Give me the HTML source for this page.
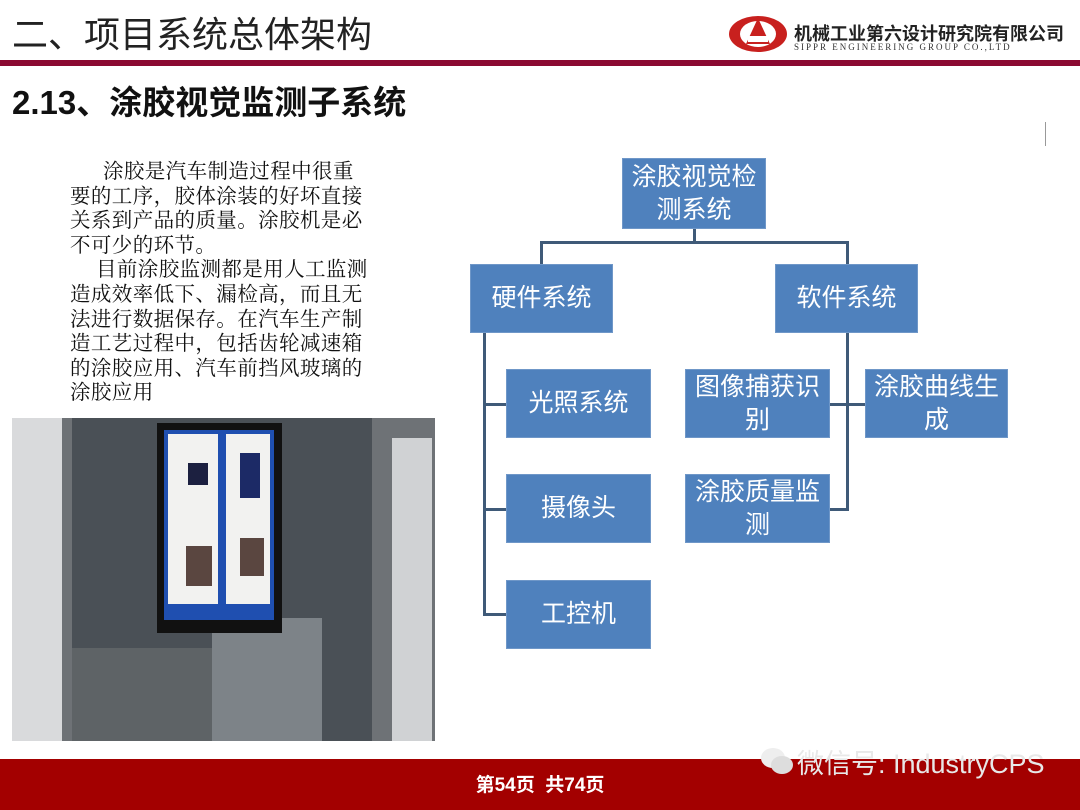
<!DOCTYPE html>
<html><head><meta charset="utf-8"><style>
body{margin:0;width:1080px;height:810px;position:relative;background:#fff;overflow:hidden;font-family:"Liberation Sans","Noto Sans CJK SC",sans-serif}
.a{position:absolute}
.box{position:absolute;background:#4f81bd;color:#fff;font-size:25px;line-height:33px;text-align:center;display:flex;align-items:center;justify-content:center;box-sizing:border-box;border:1px solid #6f97c8}
.ln{position:absolute;background:#3f5a78}
.txt{font-family:"Liberation Serif","Noto Serif CJK SC",serif;font-size:20.5px;line-height:24.6px;color:#111}
</style></head><body>
<div class="a" style="left:12px;top:6px;font-size:36px;color:#222">二、项目系统总体架构</div>
<svg class="a" style="left:728px;top:14px" width="62" height="40" viewBox="0 0 62 40"><ellipse cx="30" cy="20" rx="29" ry="18" fill="#c8201e"/><ellipse cx="30" cy="20" rx="18" ry="13" fill="#fff"/><path d="M30 4 L42 30 L18 30 Z" fill="#c8201e"/><rect x="20" y="22" width="20" height="6" fill="#fff"/></svg>
<div class="a" style="left:794px;top:20px;font-size:18px;font-weight:bold;color:#222">机械工业第六设计研究院有限公司</div>
<div class="a" style="left:794px;top:42px;font-size:9px;letter-spacing:2px;color:#333;font-family:'Liberation Serif',serif">SIPPR ENGINEERING GROUP CO.,LTD</div>
<div class="a" style="left:0;top:60px;width:1080px;height:6px;background:#8b0a32"></div>
<div class="a" style="left:12px;top:76px;font-size:33px;font-weight:bold;color:#111">2.13、涂胶视觉监测子系统</div>
<div class="a" style="left:1045px;top:122px;width:1px;height:24px;background:#999"></div>
<div class="a txt" style="left:70px;top:160px;width:300px;letter-spacing:0.4px">
<div style="text-indent:33px">涂胶是汽车制造过程中很重要的工序，胶体涂装的好坏直接关系到产品的质量。涂胶机是必不可少的环节。</div>
<div style="text-indent:26px">目前涂胶监测都是用人工监测造成效率低下、漏检高，而且无法进行数据保存。在汽车生产制造工艺过程中，包括齿轮减速箱的涂胶应用、汽车前挡风玻璃的涂胶应用</div>
</div>
<svg class="a" style="left:12px;top:418px" width="423" height="323" viewBox="0 0 423 323">
<rect width="423" height="323" fill="#6e7276"/>
<rect x="60" y="0" width="300" height="323" fill="#4a5056"/>
<rect x="0" y="0" width="50" height="323" fill="#d9dadc"/>
<rect x="380" y="20" width="40" height="303" fill="#d0d2d4"/>
<rect x="200" y="200" width="110" height="123" fill="#7d8388"/>
<rect x="60" y="230" width="140" height="93" fill="#5e6366"/>
<rect x="145" y="5" width="125" height="210" fill="#111"/>
<rect x="152" y="12" width="110" height="190" fill="#1f4fb0"/>
<rect x="156" y="16" width="50" height="170" fill="#f2f2f0"/>
<rect x="214" y="16" width="44" height="170" fill="#f2f2f0"/>
<rect x="176" y="45" width="20" height="22" fill="#1c2040"/>
<rect x="228" y="35" width="20" height="45" fill="#1c2a66"/>
<rect x="174" y="128" width="26" height="40" fill="#5a4640"/>
<rect x="228" y="120" width="24" height="38" fill="#5a4640"/>
</svg>
<div class="box" style="left:622px;top:158px;width:144px;height:71px">涂胶视觉检<br>测系统</div>
<div class="box" style="left:470px;top:264px;width:143px;height:69px">硬件系统</div>
<div class="box" style="left:775px;top:264px;width:143px;height:69px">软件系统</div>
<div class="box" style="left:506px;top:369px;width:145px;height:69px">光照系统</div>
<div class="box" style="left:506px;top:474px;width:145px;height:69px">摄像头</div>
<div class="box" style="left:506px;top:580px;width:145px;height:69px">工控机</div>
<div class="box" style="left:685px;top:369px;width:145px;height:69px">图像捕获识<br>别</div>
<div class="box" style="left:865px;top:369px;width:143px;height:69px">涂胶曲线生<br>成</div>
<div class="box" style="left:685px;top:474px;width:145px;height:69px">涂胶质量监<br>测</div>
<div class="ln" style="left:693px;top:229px;width:3px;height:14px"></div>
<div class="ln" style="left:540px;top:241px;width:309px;height:3px"></div>
<div class="ln" style="left:540px;top:241px;width:3px;height:23px"></div>
<div class="ln" style="left:846px;top:241px;width:3px;height:23px"></div>
<div class="ln" style="left:483px;top:333px;width:3px;height:283px"></div>
<div class="ln" style="left:483px;top:403px;width:23px;height:3px"></div>
<div class="ln" style="left:483px;top:508px;width:23px;height:3px"></div>
<div class="ln" style="left:483px;top:613px;width:23px;height:3px"></div>
<div class="ln" style="left:846px;top:333px;width:3px;height:178px"></div>
<div class="ln" style="left:830px;top:403px;width:35px;height:3px"></div>
<div class="ln" style="left:830px;top:508px;width:18px;height:3px"></div>
<div class="a" style="left:0;top:759px;width:1080px;height:51px;background:#a30000"></div>
<div class="a" style="left:0;top:770px;width:1080px;text-align:center;color:#fff;font-size:19px;font-weight:bold">第54页&nbsp; 共74页</div>
<svg class="a" style="left:760px;top:746px" width="34" height="30" viewBox="0 0 34 30"><ellipse cx="13" cy="12" rx="12" ry="10" fill="#eee"/><ellipse cx="22" cy="19" rx="11" ry="9" fill="#ddd"/></svg>
<div class="a" style="left:797px;top:742px;font-size:27px;color:#e8e8e8">微信号: IndustryCPS</div>
</body></html>
